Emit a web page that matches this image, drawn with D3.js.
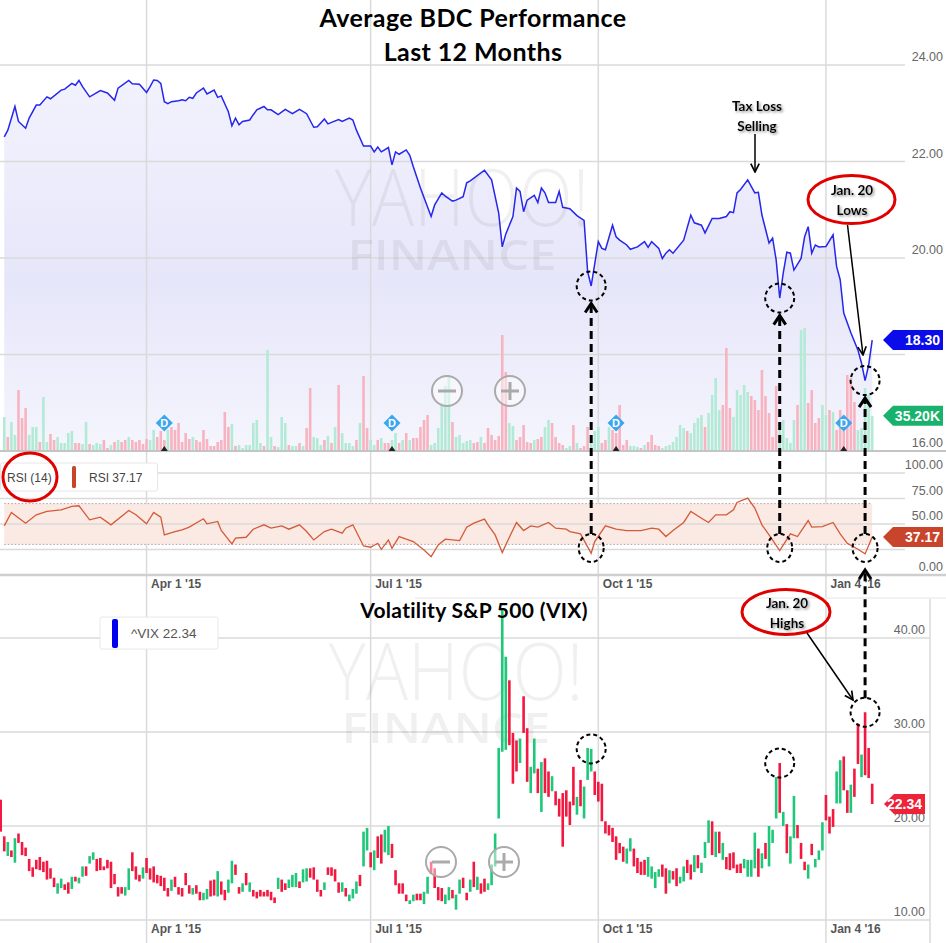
<!DOCTYPE html>
<html>
<head>
<meta charset="utf-8">
<script src="https://cdn.jsdelivr.net/npm/d3@7"></script>
<style>
  body { margin: 0; background: #fff; }
  svg { display: block; font-family: "Liberation Sans", Arial, sans-serif; }
  .title { font-family: Lato, "Open Sans", sans-serif; font-weight: 700; fill: #000; text-anchor: middle; }
  .note { font-family: Lato, "Open Sans", sans-serif; font-weight: 700; font-size: 13.5px; fill: #000; text-anchor: middle; }
  .ylab { fill: #666; font-size: 12.5px; text-anchor: end; }
  .mark { font-family: "Open Sans", sans-serif; fill: #000; opacity: 0.055; text-anchor: middle; }
</style>
</head>
<body>
<div id="chart"></div>
<script>
// ---- data ----

const tickDays = [40, 103, 167, 231];
const tickLabels = ["Apr 1 '15", "Jul 1 '15", "Oct 1 '15", "Jan 4 '16"];
const priceTicks = [16, 18, 20, 22, 24];
const rsiTicks = [0, 25, 50, 75, 100];
const vixTicks = [10, 20, 30, 40];
const dividendDays = [45, 109, 172, 236];
const markDays = [165, 218, 242];

// average BDC price, [trading day, close]
const price = [
  [0,22.51],[1,22.65],[3,23.14],[4,22.83],[6,22.69],[7,22.9],[9,23.17],[10,23.17],[12,23.34],[13,23.3],
  [16,23.48],[17,23.5],[19,23.62],[20,23.58],[21,23.68],[22,23.55],[24,23.34],[27,23.47],[29,23.42],[31,23.27],
  [32,23.52],[35,23.68],[36,23.61],[38,23.6],[40,23.43],[41,23.55],[42,23.69],[43,23.68],[44,23.62],[45,23.24],
  [46,23.2],[47,23.24],[49,23.26],[50,23.28],[51,23.26],[52,23.33],[53,23.31],[54,23.42],[56,23.52],[57,23.4],
  [59,23.48],[60,23.33],[61,23.36],[63,23.03],[64,22.74],[65,22.9],[66,22.76],[67,22.83],[69,22.86],[70,22.97],
  [71,23.07],[73,23.14],[74,23.07],[75,23.07],[77,22.97],[79,23.08],[81,22.99],[83,23.08],[85,22.99],[87,22.71],
  [88,22.72],[90,22.88],[91,22.78],[92,22.81],[94,22.87],[95,22.83],[97,22.9],[98,22.86],[99,22.65],[101,22.32],
  [103,22.32],[104,22.2],[105,22.3],[106,22.2],[108,22.29],[109,21.93],[110,22.2],[111,22.15],[113,22.24],[114,22.13],
  [115,21.89],[117,21.45],[120,20.86],[121,21.1],[123,21.35],[124,21.28],[126,21.18],[127,21.2],[129,21.27],[130,21.56],
  [131,21.6],[135,21.82],[137,21.62],[139,20.93],[140,20.23],[141,20.5],[143,20.86],[144,21.45],[145,21.38],[146,20.96],
  [147,21.2],[149,21.3],[150,21.15],[151,21.45],[152,21.35],[153,21.15],[155,21.15],[156,21.38],[157,21.05],[159,21.02],
  [161,20.88],[163,20.78],[164,19.72],[165,19.42],[167,20.34],[168,20.2],[169,20.17],[171,20.68],[172,20.44],[173,20.37],
  [175,20.27],[176,20.18],[178,20.23],[180,20.34],[181,20.22],[182,20.34],[184,20.2],[185,19.99],[186,20.1],[187,20.17],
  [188,20.1],[191,20.37],[193,20.89],[194,20.73],[196,20.68],[197,20.52],[199,20.82],[201,20.82],[203,20.86],[204,20.96],
  [205,20.94],[206,21.35],[207,21.42],[209,21.62],[211,21.35],[212,21.36],[213,20.89],[215,20.31],[216,20.41],[217,19.96],
  [218,19.17],[219,19.69],[220,20.12],[221,20.1],[222,19.75],[224,19.99],[225,20.44],[226,20.65],[227,20.1],[228,20.27],
  [229,20.23],[231,20.24],[233,20.48],[234,19.82],[235,19.55],[236,18.86],[238,18.45],[240,18.09],[241,17.82],[242,17.46],
  [243,17.78],[244,18.30]
];

// volume in thousands, one per trading day from day 0
const volumes = [
  34,14,29,16,61,33,43,16,24,24, 9,54,9,17,11,14,8,8,18,20, 8,8,7,29,7,6,8,7,11,3,
  6,9,11,9,11,14,11,9,11,7, 12,11,21,14,20,11,21,24,21,28, 9,18,12,14,11,9,21,12,5,5,
  9,11,39,24,27,5,6,3,6,6, 28,31,8,5,101,14,5,4,34,28, 6,5,5,8,5,23,63,14,13,6,
  11,15,8,24,66,18,8,8,5,11, 28,75,23,11,6,11,13,8,8,11, 18,8,11,18,11,13,13,24,31,36,
  6,8,23,48,65,75,29,14,16,8, 10,11,8,9,14,8,23,16,11,15, 116,79,28,25,11,14,26,9,8,11,
  12,14,24,31,28,14,8,6,3,5, 26,8,3,5,24,13,20,24,8,11, 24,21,18,46,6,11,5,5,4,3,
  6,9,16,6,5,3,5,6,9,14, 26,23,20,18,28,33,36,24,38,56, 73,41,46,103,43,34,61,56,66,59,
  55,51,41,81,55,38,14,65,21,31, 13,8,31,46,121,123,48,61,28,33, 46,36,41,39,21,41,20,76,73,49,
  21,23,63,56,35.2
];
// 1 = up day (green), 0 = down day (pink)
const volumeUp = [
  1,0,1,1,0,0,0,1,1,1, 0,1,1,0,0,1,1,1,1,1, 0,0,1,1,0,1,1,1,0,0,
  1,0,1,0,0,1,0,0,0,0, 0,1,1,0,0,0,1,0,0,0, 0,0,0,1,0,0,0,0,0,0,
  0,0,0,0,1,0,1,1,1,1, 1,1,1,0,1,1,0,1,1,1, 0,1,1,0,1,0,0,1,1,1,
  0,1,0,1,0,1,1,1,1,0, 1,0,0,1,1,0,1,0,0,1, 1,0,1,0,1,0,0,0,0,0,
  1,1,1,1,1,1,0,1,1,1, 1,1,0,0,1,0,0,0,0,0, 0,0,1,1,0,0,0,0,0,1,
  0,0,1,1,0,0,0,0,1,1, 0,1,0,0,0,1,1,1,0,0, 1,0,0,0,0,0,1,1,1,0,
  1,0,0,0,0,1,1,1,1,1, 1,1,0,1,1,1,1,0,1,1, 1,1,0,0,0,1,1,1,1,1,
  0,0,0,0,0,0,0,0,1,1, 1,1,1,0,1,1,0,0,0,0, 1,1,0,1,0,0,0,0,0,0,
  1,1,1,1,1
];

// RSI(14), [trading day, value]
const rsi = [
  [0,48.2],[2,61.3],[6,50.8],[9,59],[12,62.3],[16,63.9],[19,67.2],[21,67.9],[24,54.1],[27,56.7],
  [30,49.2],[35,63.3],[37,59],[40,50.2],[42,61.3],[44,56.7],[45,39.3],[48,42.6],[50,44.3],[52,46.9],
  [56,55.1],[57,50.2],[60,52.5],[61,43.6],[64,30.5],[65,36.1],[68,37],[70,44.9],[73,49.2],[75,45.9],
  [78,48.2],[80,44.9],[83,49.2],[85,42.6],[87,34.4],[90,42.6],[92,44.9],[95,41],[96,45.9],[98,49.2],
  [101,28.5],[103,27.2],[105,31.1],[106,25.2],[108,34.4],[109,26.2],[111,37.7],[113,35.1],[115,32.8],[118,24.6],
  [120,18],[122,29.5],[124,35.1],[128,33.8],[130,46.9],[132,50.8],[135,54.8],[136,49.2],[138,39.3],[140,22],
  [142,37],[144,51.5],[146,43.6],[148,48.2],[150,46.9],[153,51.5],[155,45.9],[158,44.9],[159,42.6],[162,40.3],
  [165,21.3],[166,32.8],[169,48.2],[172,44.9],[175,43.6],[179,43.6],[182,45.9],[184,44.9],[186,37.7],[188,43.6],
  [191,51.5],[193,62.3],[196,55.7],[198,51.5],[200,59],[203,59],[205,63.9],[206,71.1],[209,75.4],[211,65.6],
  [213,49.2],[215,39.3],[218,23.9],[221,40.3],[223,37.7],[226,53.4],[227,46.9],[230,47.5],[233,51.5],[235,40.3],
  [237,31.1],[240,25.2],[242,20.7],[244,37.17]
];

// VIX daily bars [open, close], first bar is day -1
const vixFirstDay = -1;
const vixBars = [
  [22.8,19.4],[18.9,17.3],[16.8,18.3],[17.4,16.7],[16.1,18.7],[19.2,18.2],[18.3,16.9],[17.7,16.8],[16.5,15.2],[15.6,14.6],
  [16.4,15.4],[16.7,15.3],[16.2,15.1],[16.3,14.3],[15.5,14.4],[14.5,13.5],[12.8,13.9],[13.4,14.4],[13.8,13.2],[14.0,12.8],
  [13.3,14.6],[14.6,14.1],[13.9,14.5],[14.6,15.7],[15.7,14.7],[16.0,16.8],[16.4,17.2],[16.5,15.2],[16.6,15.3],[15.7,15.3],
  [16.4,15.5],[16.2,13.4],[14.9,13.8],[13.5,12.5],[13.5,12.8],[12.6,13.5],[13.2,15.5],[17.2,15.2],[15.7,14.3],[14.8,14.1],
  [14.4,15.6],[16.6,15.0],[15.5,14.3],[15.7,14.0],[14.8,13.9],[14.7,13.6],[14.5,13.1],[13.4,12.5],[13.1,14.3],[14.6,13.5],
  [13.5,12.7],[13.4,12.5],[15.0,13.7],[13.7,12.8],[12.7,13.4],[13.7,12.8],[13.0,12.1],[12.1,12.9],[12.2,13.3],[14.2,12.5],
  [14.3,12.6],[12.5,15.2],[14.1,12.7],[13.2,12.1],[12.9,14.3],[13.9,16.3],[15.9,14.8],[13.5,12.8],[13.0,13.9],[15.0,13.7],
  [13.0,14.0],[13.2,12.5],[13.0,12.3],[13.2,12.5],[13.0,12.5],[13.2,12.5],[13.0,12.1],[12.4,11.8],[13.3,14.5],[14.3,13.0],
  [13.9,13.2],[13.4,14.3],[13.5,14.8],[13.5,15.0],[14.1,13.4],[14.0,15.4],[14.1,15.5],[15.5,14.5],[15.6,14.3],[14.3,13.0],
  [13.2,12.5],[13.2,14.0],[15.6,14.8],[15.6,14.7],[15.4,14.1],[14.0,12.9],[13.0,14.0],[13.4,12.5],[12.0,12.7],[12.3,13.3],
  [12.8,14.1],[14.8,13.6],[15.7,19.4],[17.4,19.8],[17.2,15.6],[15.3,17.4],[18.9,16.6],[19.1,16.0],[17.2,19.6],[16.9,20.0],
  [18.1,16.6],[15.3,13.7],[13.9,12.8],[13.9,12.8],[12.7,12.0],[11.7,12.1],[12.0,12.7],[12.8,12.1],[12.8,12.1],[11.7,13.0],
  [12.8,14.6],[16.2,14.9],[15.5,13.4],[13.5,12.1],[13.4,12.0],[11.7,12.7],[12.1,13.5],[13.2,12.3],[11.1,12.7],[12.8,14.3],
  [14.5,13.4],[12.9,12.1],[13.0,14.3],[16.2,13.5],[13.2,14.6],[13.9,12.8],[14.4,13.0],[13.2,13.9],[13.7,15.9],[15.7,19.2],
  [20.8,28.3],[27.9,43.0],[28.1,38.0],[35.5,28.6],[29.9,24.5],[29.1,25.8],[26.7,29.3],[33.8,29.9],[30.4,24.7],[23.5,26.3],
  [25.6,29.3],[26.1,23.5],[21.5,26.8],[27.2,23.5],[25.8,23.1],[23.7,25.3],[23.7,22.2],[22.9,21.0],[23.5,17.8],[23.8,21.0],
  [22.6,20.1],[26.3,22.2],[21.2,23.1],[24.9,22.1],[20.8,24.2],[24.9,28.3],[25.8,28.2],[25.8,23.3],[24.7,22.6],[24.5,20.5],
  [20.5,19.2],[20.1,19.0],[19.8,18.3],[18.9,16.4],[18.2,17.1],[17.8,16.2],[16.0,17.6],[17.3,18.7],[17.6,15.7],[16.6,15.0],
  [16.2,14.8],[16.4,14.8],[14.6,16.7],[14.4,15.7],[13.4,15.1],[14.6,15.4],[15.9,14.6],[15.5,12.8],[13.9,15.3],[15.2,14.3],
  [15.5,13.6],[13.9,14.6],[14.1,15.7],[16.4,15.0],[15.9,14.3],[15.1,16.9],[16.9,15.5],[15.0,16.1],[16.6,18.3],[18.2,20.6],
  [20.5,16.9],[16.7,19.4],[19.4,17.1],[16.4,18.2],[16.7,15.4],[17.1,15.3],[17.2,15.5],[15.9,15.0],[16.0,15.0],[15.5,16.5],
  [14.6,16.4],[14.6,16.4],[15.5,19.3],[17.6,14.6],[15.5,17.1],[18.2,16.5],[15.7,20.0],[18.2,19.6],[20.8,25.2],[26.7,21.4],
  [20.0,21.5],[20.2,17.1],[16.0,18.9],[18.7,23.2],[20.1,18.7],[18.2,16.5],[16.2,15.3],[14.4,15.9],[18.1,16.9],[15.6,16.5],
  [16.4,17.4],[17.4,20.4],[23.3,20.6],[21.0,19.2],[21.8,19.9],[22.4,25.8],[22.4,27.0],[27.4,23.8],[23.8,21.4],[21.4,24.4],
  [26.1,23.1],[30.9,26.6],[25.2,27.6],[32.1,25.4],[28.3,25.1],[24.5,22.34]
];

// ---- drawing ----

const W = 946, H = 943;
const x = d3.scaleLinear().domain([0, 244]).range([4.26, 872.2]);
const yP = d3.scaleLinear().domain([16, 24]).range([451, 65]);
const yVol = d3.scaleLinear().domain([0, 100]).range([451, 351]);
const yR = d3.scaleLinear().domain([0, 100]).range([575, 473]);
const yV = d3.scaleLinear().domain([10, 40]).range([920, 638]);

const vix = vixBars.map((b, i) => ({ day: vixFirstDay + i, open: b[0], close: b[1] }));
const vol = volumes.map((v, i) => ({ day: i, v: v, up: volumeUp[i] === 1 }));
const last = a => a[a.length - 1];

const svg = d3.select("#chart").append("svg").attr("width", W).attr("height", H);
const defs = svg.append("defs");

const grad = defs.append("linearGradient").attr("id", "fill").attr("x1", 0).attr("y1", 0).attr("x2", 0).attr("y2", 1);
grad.append("stop").attr("offset", "0%").attr("stop-color", "#f2f2fd");
grad.append("stop").attr("offset", "55%").attr("stop-color", "#e6e6fa");
grad.append("stop").attr("offset", "100%").attr("stop-color", "#f5f5fd");

const sh = defs.append("filter").attr("id", "shadow").attr("x", "-20%").attr("y", "-30%").attr("width", "140%").attr("height", "160%");
sh.append("feDropShadow").attr("dx", 1.5).attr("dy", 1.5).attr("stdDeviation", 1.2)
  .attr("flood-color", "#666").attr("flood-opacity", 0.7);

defs.append("marker").attr("id", "arr").attr("viewBox", "0 0 10 10").attr("refX", 9).attr("refY", 5)
  .attr("markerWidth", 7).attr("markerHeight", 7).attr("orient", "auto-start-reverse")
  .append("path").attr("d", "M1,1 L9,5 L1,9").attr("fill", "none").attr("stroke", "#000").attr("stroke-width", 1.6);

const grid = "#dadada";

function hGrid(g, scale, ticks, x0, x1) {
  g.selectAll(null).data(ticks).join("line")
    .attr("x1", x0).attr("x2", x1)
    .attr("y1", d => scale(d)).attr("y2", d => scale(d))
    .attr("stroke", grid).attr("stroke-width", 1.5);
}
function vGrid(g, y0, y1) {
  g.selectAll(null).data(tickDays).join("line")
    .attr("x1", d => x(d)).attr("x2", d => x(d))
    .attr("y1", y0).attr("y2", y1)
    .attr("stroke", grid).attr("stroke-width", 1.5);
}
// value labels sit above their grid line; the one hidden by the last-value tag is left out
function yLabels(g, scale, ticks, xr, tagY) {
  g.selectAll(null).data(ticks.filter(t => Math.abs(scale(t) - 8 - tagY) > 12)).join("text").attr("class", "ylab")
    .attr("x", xr).attr("y", d => scale(d) - 4)
    .text(d3.format(".2f"));
}
function tag(g, x0, yc, w, color, label) {
  const h = 20;
  g.append("path")
    .attr("d", `M${x0},${yc} L${x0 + 10},${yc - h / 2} H${x0 + w} V${yc + h / 2} H${x0 + 10} Z`)
    .attr("fill", color);
  g.append("text").attr("x", x0 + w - 3).attr("y", yc + 5).attr("text-anchor", "end")
    .attr("fill", "#fff").attr("font-weight", "bold").attr("font-size", "14px").text(label);
}
function zoomButtons(g, cx, cy) {
  [0, 1].forEach(k => {
    const b = g.append("g").attr("transform", `translate(${cx + k * 63},${cy})`);
    b.append("circle").attr("r", 15).attr("fill", "rgba(255,255,255,0.45)")
      .attr("stroke", "#aaa").attr("stroke-width", 2);
    b.append("line").attr("x1", -9).attr("x2", 9).attr("stroke", "#aaa").attr("stroke-width", 3);
    if (k === 1) b.append("line").attr("y1", -9).attr("y2", 9).attr("stroke", "#aaa").attr("stroke-width", 3);
  });
}
function watermark(g, cx, y1, y2) {
  g.append("text").attr("class", "mark").attr("x", cx).attr("y", y1)
    .attr("font-size", "80px").attr("font-weight", 300)
    .attr("textLength", 255).attr("lengthAdjust", "spacingAndGlyphs").text("YAHOO!");
  g.append("text").attr("class", "mark").attr("x", cx - 10).attr("y", y2)
    .attr("font-size", "42px").attr("font-weight", 600)
    .attr("textLength", 209).attr("lengthAdjust", "spacingAndGlyphs").text("FINANCE");
}
function timeAxis(yPos) {
  const g = svg.append("g").attr("transform", `translate(0,${yPos})`)
    .call(d3.axisBottom(x).tickValues(tickDays).tickFormat((d, i) => tickLabels[i]).tickSize(0).tickPadding(4));
  g.select(".domain").remove();
  g.selectAll("text").attr("text-anchor", "start").attr("dx", 4)
    .attr("fill", "#555").attr("font-weight", "bold").attr("font-size", "12px")
    .attr("font-family", "'Liberation Sans', Arial, sans-serif");
}

// ---------- top panel: price ----------
const tp = svg.append("g");

tp.append("path").datum(price)
  .attr("d", d3.area().x(d => x(d[0])).y0(yP(16)).y1(d => yP(d[1])))
  .attr("fill", "url(#fill)");

hGrid(tp, yP, priceTicks.filter(t => t > 16), 0, 905);
vGrid(tp, 0, 598);
watermark(tp, 462, 226, 270);

tp.selectAll(".vol").data(vol).join("rect").attr("class", "vol")
  .attr("x", d => x(d.day) - 1.3).attr("width", 2.6)
  .attr("y", d => yVol(d.v)).attr("height", d => yVol(0) - yVol(d.v))
  .attr("fill", d => d.up ? "#b3ead6" : "#f8b3c0");

tp.append("line").attr("x1", 0).attr("x2", W).attr("y1", yP(16)).attr("y2", yP(16))
  .attr("stroke", "#c4c4c4").attr("stroke-width", 2);

const divs = tp.selectAll(".div").data(dividendDays).join("g").attr("class", "div");
divs.append("rect").attr("x", d => x(d) - 6).attr("y", 417).attr("width", 12).attr("height", 12)
  .attr("transform", d => `rotate(45,${x(d)},423)`).attr("fill", "#3aa6ee");
divs.append("text").attr("x", d => x(d)).attr("y", 427).attr("text-anchor", "middle")
  .attr("fill", "#fff").attr("font-size", "11px").attr("font-weight", "bold").text("D");
divs.append("path").attr("d", d => `M${x(d) - 3.5},451 L${x(d)},446 L${x(d) + 3.5},451 Z`).attr("fill", "#222");

tp.append("path").datum(price)
  .attr("d", d3.line().x(d => x(d[0])).y(d => yP(d[1])))
  .attr("fill", "none").attr("stroke", "#2626ec").attr("stroke-width", 1.5);

zoomButtons(tp, 447, 391);
yLabels(tp, yP, priceTicks, 943, yP(last(price)[1]));
tag(tp, 883, yP(last(price)[1]), 60, "#0c0cea", d3.format(".2f")(last(price)[1]));
tag(tp, 883, yVol(last(volumes)), 60, "#19b26c", d3.format(".2f")(last(volumes)) + "K");

// ---------- RSI panel ----------
const rp = svg.append("g");
rp.append("rect").attr("x", x(0)).attr("width", x(244) - x(0))
  .attr("y", yR(70)).attr("height", yR(30) - yR(70)).attr("fill", "#fbe9e3");
hGrid(rp, yR, rsiTicks.filter(t => t > 0), 0, 905);
rp.selectAll(null).data([70, 30]).join("line")
  .attr("x1", x(0)).attr("x2", x(244)).attr("y1", d => yR(d)).attr("y2", d => yR(d))
  .attr("stroke", "#b0a0a0").attr("stroke-dasharray", "1.5,2");
rp.append("line").attr("x1", 0).attr("x2", W).attr("y1", yR(0)).attr("y2", yR(0))
  .attr("stroke", "#cfcfcf").attr("stroke-width", 2.5);

rp.append("path").datum(rsi)
  .attr("d", d3.line().x(d => x(d[0])).y(d => yR(d[1])))
  .attr("fill", "none").attr("stroke", "#d45a3a").attr("stroke-width", 1.3);

rp.append("rect").attr("x", 0.5).attr("y", 463).attr("width", 157).attr("height", 28).attr("rx", 2)
  .attr("fill", "#fff").attr("stroke", "#e6e6e6");
rp.append("rect").attr("x", 72).attr("y", 466).attr("width", 4).attr("height", 22).attr("rx", 1.5).attr("fill", "#c8442a");
rp.append("text").attr("x", 7).attr("y", 482).attr("fill", "#444").attr("font-size", "12px").text("RSI (14)");
rp.append("text").attr("x", 89).attr("y", 482).attr("fill", "#444").attr("font-size", "12px")
  .text("RSI " + d3.format(".2f")(last(rsi)[1]));

yLabels(rp, yR, rsiTicks, 943, yR(last(rsi)[1]));
tag(rp, 883, yR(last(rsi)[1]), 60, "#c8442a", d3.format(".2f")(last(rsi)[1]));
timeAxis(575);

// ---------- VIX panel ----------
const vp = svg.append("g");
hGrid(vp, yV, vixTicks, 0, 930);
vGrid(vp, 598, H);
vp.append("line").attr("x1", 930).attr("x2", 930).attr("y1", 598).attr("y2", H).attr("stroke", grid).attr("stroke-width", 1.5);
vp.append("line").attr("x1", 415).attr("x2", W).attr("y1", 598).attr("y2", 598).attr("stroke", "#eee").attr("stroke-width", 1.5);
watermark(vp, 456, 700, 743);

vp.selectAll(".bar").data(vix).join("rect").attr("class", "bar")
  .attr("x", d => x(d.day) - 1.3).attr("width", 2.6)
  .attr("y", d => yV(Math.max(d.open, d.close)))
  .attr("height", d => Math.max(1, Math.abs(yV(d.open) - yV(d.close))))
  .attr("fill", d => d.close >= d.open ? "#1fc77a" : "#f2183f");

zoomButtons(vp, 441, 862);

vp.append("rect").attr("x", 100).attr("y", 617).attr("width", 118).attr("height", 32).attr("rx", 2)
  .attr("fill", "#fff").attr("stroke", "#e8e8e8");
vp.append("rect").attr("x", 112).attr("y", 619).attr("width", 6).attr("height", 29).attr("rx", 2).attr("fill", "#0000ee");
vp.append("text").attr("x", 131).attr("y", 638).attr("fill", "#555").attr("font-size", "13.5px")
  .text("^VIX " + d3.format(".2f")(last(vix).close));

yLabels(vp, yV, vixTicks, 925, yV(last(vix).close));
tag(vp, 884, yV(last(vix).close), 41, "#ee2238", d3.format(".2f")(last(vix).close));
timeAxis(920);

// ---------- titles ----------
svg.append("text").attr("class", "title").attr("x", 473).attr("y", 27).attr("font-size", "25px")
  .attr("letter-spacing", "0.4px").text("Average BDC Performance");
svg.append("text").attr("class", "title").attr("x", 473).attr("y", 61).attr("font-size", "25px")
  .attr("letter-spacing", "0.4px").text("Last 12 Months");
svg.append("text").attr("class", "title").attr("x", 474).attr("y", 618).attr("font-size", "21px")
  .attr("letter-spacing", "0.3px").text("Volatility S&P 500 (VIX)");

// ---------- annotations ----------
const ann = svg.append("g");
const priceAt = d => price.find(p => p[0] === d)[1];
const vixHighAt = d => { const b = vix.find(v => v.day === d); return Math.max(b.open, b.close); };
const rsiY = 548;

ann.selectAll(".c1").data(markDays).join("circle").attr("class", "c1")
  .attr("cx", d => x(d)).attr("cy", d => yP(priceAt(d))).attr("r", 14.5);
ann.selectAll(".c2").data(markDays).join("ellipse").attr("class", "c2")
  .attr("cx", d => x(d)).attr("cy", rsiY).attr("rx", 12.5).attr("ry", 14);
ann.selectAll(".c3").data(markDays).join("circle").attr("class", "c3")
  .attr("cx", d => x(d)).attr("cy", d => yV(vixHighAt(d))).attr("r", 14.5);
ann.selectAll("circle, ellipse").attr("fill", "none").attr("stroke", "#000")
  .attr("stroke-width", 2).attr("stroke-dasharray", "4,3");

function dashedUp(xp, yFrom, yTo) {
  ann.append("line").attr("x1", xp).attr("x2", xp).attr("y1", yFrom).attr("y2", yTo + 2)
    .attr("stroke", "#000").attr("stroke-width", 3).attr("stroke-dasharray", "8,5");
  ann.append("path").attr("d", `M${xp - 6},${yTo + 9} L${xp},${yTo} L${xp + 6},${yTo + 9}`)
    .attr("fill", "none").attr("stroke", "#000").attr("stroke-width", 3);
}
markDays.forEach(d => dashedUp(x(d), rsiY - 14, yP(priceAt(d)) + 17.5));
dashedUp(x(markDays[2]), yV(vixHighAt(markDays[2])) - 14, rsiY + 22);

ann.append("text").attr("class", "note").attr("x", 757).attr("y", 111).attr("filter", "url(#shadow)").text("Tax Loss");
ann.append("text").attr("class", "note").attr("x", 757).attr("y", 131).attr("filter", "url(#shadow)").text("Selling");
ann.append("line").attr("x1", 755).attr("y1", 134).attr("x2", 755).attr("y2", 172)
  .attr("stroke", "#000").attr("stroke-width", 1.5).attr("marker-end", "url(#arr)");

ann.append("ellipse").attr("cx", 851.5).attr("cy", 199.5).attr("rx", 43.5).attr("ry", 24)
  .attr("fill", "none").attr("stroke", "#e00000").attr("stroke-width", 3);
ann.append("text").attr("class", "note").attr("x", 852).attr("y", 195).attr("filter", "url(#shadow)").text("Jan. 20");
ann.append("text").attr("class", "note").attr("x", 852).attr("y", 215).attr("filter", "url(#shadow)").text("Lows");
ann.append("line").attr("x1", 847.5).attr("y1", 225).attr("x2", 863).attr("y2", 355)
  .attr("stroke", "#000").attr("stroke-width", 1.5).attr("marker-end", "url(#arr)");

ann.append("ellipse").attr("cx", 786).attr("cy", 612).attr("rx", 44).attr("ry", 22.5)
  .attr("fill", "none").attr("stroke", "#e00000").attr("stroke-width", 3);
ann.append("text").attr("class", "note").attr("x", 787).attr("y", 608).attr("filter", "url(#shadow)").text("Jan. 20");
ann.append("text").attr("class", "note").attr("x", 787).attr("y", 628).attr("filter", "url(#shadow)").text("Highs");
ann.append("line").attr("x1", 807).attr("y1", 633).attr("x2", 853).attr("y2", 700)
  .attr("stroke", "#000").attr("stroke-width", 1.5).attr("marker-end", "url(#arr)");

ann.append("ellipse").attr("cx", 30).attr("cy", 477).attr("rx", 27).attr("ry", 24)
  .attr("fill", "none").attr("stroke", "#e00000").attr("stroke-width", 3);
</script>
</body>
</html>
